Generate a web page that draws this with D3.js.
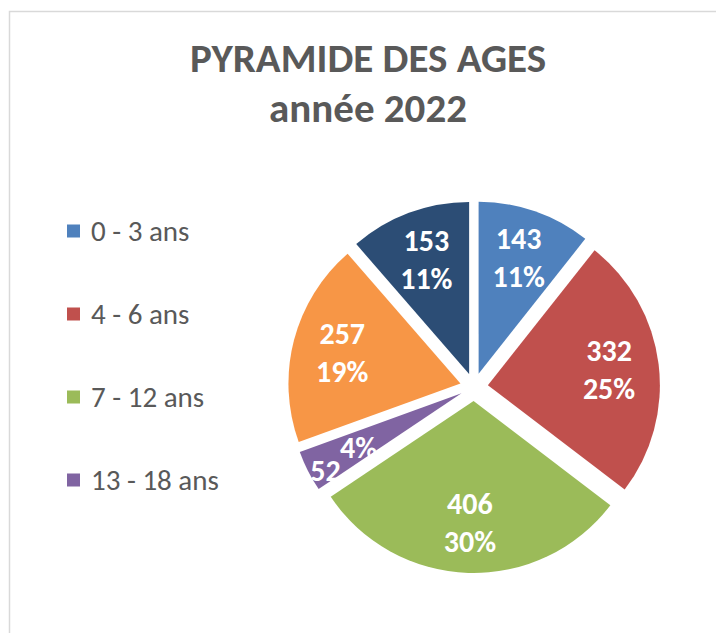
<!DOCTYPE html>
<html>
<head>
<meta charset="utf-8">
<script src="https://cdn.jsdelivr.net/npm/d3@7"></script>
<style>
  body { margin: 0; background: #fff; }
  svg { display: block; font-family: Calibri, Carlito, Lato, sans-serif; }
  .title { fill: #595959; font-weight: bold; font-size: 41px; }
  .legend text { fill: #595959; font-size: 29px; }
  .label { fill: #fff; font-weight: bold; font-size: 30px; }
</style>
</head>
<body>
<svg width="716" height="633"></svg>
<script>
const categories = ["0 - 3 ans", "4 - 6 ans", "7 - 12 ans", "13 - 18 ans", "19 - 25 ans", "26 ans et +"],
      values = [143, 332, 406, 52, 257, 153],
      colorList = ["#4F81BD", "#C0504D", "#9BBB59", "#8064A2", "#F79646", "#2C4D75"],
      titleLines = ["PYRAMIDE DES AGES", "année 2022"]

const svg = d3.select("svg"),
      cx = 474, cy = 387,
      radius = 172,
      explode = 14

const total = d3.sum(values)
const color = d3.scaleOrdinal().domain(categories).range(colorList)

const data = categories.map((c, i) => ({name: c, value: values[i]}))

// chart frame (runs off the bottom/right of the picture)
svg.append("rect")
  .attr("x", 9.5).attr("y", 11.5)
  .attr("width", 760).attr("height", 700)
  .style("fill", "none").style("stroke", "#d9d9d9").style("stroke-width", 1.5)

svg.selectAll(".title")
  .data(titleLines)
  .enter().append("text")
    .attr("class", "title")
    .attr("x", 368)
    .attr("y", (d, i) => 72 + i * 50)
    .attr("text-anchor", "middle")
    .text(d => d)

const pie = d3.pie().sort(null).value(d => d.value)
const arc = d3.arc().innerRadius(0).outerRadius(radius)
const labelArc = d3.arc().innerRadius(radius * 0.71).outerRadius(radius * 0.71)

const g = svg.append("g").attr("transform", "translate(" + cx + "," + cy + ")")

const slices = g.selectAll(".slice")
  .data(pie(data))
  .enter().append("g")
    .attr("class", "slice")
    .attr("transform", function (d) {
      let a = (d.startAngle + d.endAngle) / 2
      return "translate(" + (explode * Math.sin(a)) + "," + (-explode * Math.cos(a)) + ")"
    })

slices.append("path")
  .attr("d", arc)
  .style("fill", d => color(d.data.name))

// the tiny slice gets its label lines pushed apart, as in the original
const nudge = {"13 - 18 ans": [[-27, 22], [6, -1]]}

slices.each(function (d) {
  let c = labelArc.centroid(d)
  let lines = [d.data.value, Math.round(d.data.value / total * 100) + "%"]
  let off = nudge[d.data.name] || [[0, -19], [0, 19]]
  d3.select(this).selectAll(".label")
    .data(lines)
    .enter().append("text")
      .attr("class", "label")
      .attr("text-anchor", "middle")
      .attr("x", (t, i) => c[0] + off[i][0])
      .attr("y", (t, i) => c[1] + off[i][1] + 10)
      .text(t => t)
})

// the legend only had room for the first four entries
const legend = svg.append("g").attr("class", "legend")
  .selectAll("g")
  .data(categories.slice(0, 4))
  .enter().append("g")
    .attr("transform", (d, i) => "translate(67," + (231 + i * 83) + ")")

legend.append("rect")
  .attr("x", 0).attr("y", -6.5)
  .attr("width", 13).attr("height", 13)
  .style("fill", d => color(d))

legend.append("text")
  .attr("x", 24).attr("y", 10)
  .text(d => d)
</script>
</body>
</html>
